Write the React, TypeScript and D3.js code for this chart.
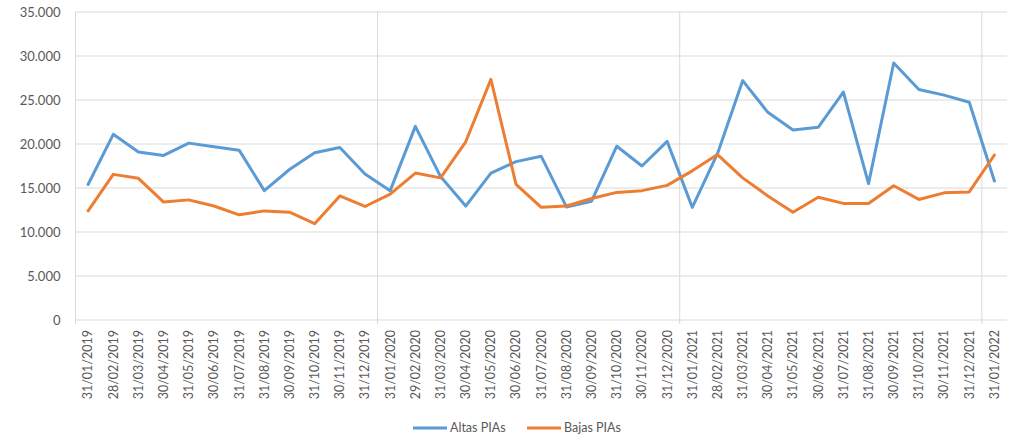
import React from 'react';
import * as d3 from 'd3';

// monthly end dates
const fechas = [
  '31/01/2019', '28/02/2019', '31/03/2019', '30/04/2019', '31/05/2019', '30/06/2019',
  '31/07/2019', '31/08/2019', '30/09/2019', '31/10/2019', '30/11/2019', '31/12/2019',
  '31/01/2020', '29/02/2020', '31/03/2020', '30/04/2020', '31/05/2020', '30/06/2020',
  '31/07/2020', '31/08/2020', '30/09/2020', '31/10/2020', '30/11/2020', '31/12/2020',
  '31/01/2021', '28/02/2021', '31/03/2021', '30/04/2021', '31/05/2021', '30/06/2021',
  '31/07/2021', '31/08/2021', '30/09/2021', '31/10/2021', '30/11/2021', '31/12/2021',
  '31/01/2022'
];

const altas = [
  15400, 21100, 19100, 18700, 20100, 19700, 19300, 14700, 17100, 19000, 19600, 16600,
  14700, 22000, 16300, 12950, 16700, 18000, 18600, 12850, 13500, 19750, 17500, 20300,
  12800, 18900, 27200, 23600, 21600, 21900, 25900, 15500, 29200, 26200, 25550, 24750,
  15800
];

const bajas = [
  12400, 16550, 16100, 13400, 13650, 12950, 11950, 12400, 12250, 10950, 14100, 12900,
  14300, 16700, 16150, 20250, 27350, 15400, 12800, 12950, 13800, 14500, 14700, 15300,
  16950, 18800, 16150, 14100, 12250, 13950, 13250, 13250, 15250, 13700, 14450, 14550,
  18750
];

const yTicks = [0, 5000, 10000, 15000, 20000, 25000, 30000, 35000];

const series = [
  { name: 'Altas PIAs', values: altas, color: '#5B9BD5' },
  { name: 'Bajas PIAs', values: bajas, color: '#ED7D31' }
];

const fmt = (v: number) => d3.format(',')(v).replace(/,/g, '.');

export default function App() {
  const width = 1014;
  const height = 442;
  const margin = { top: 12, right: 7, bottom: 122, left: 75.5 };
  const w = width - margin.left - margin.right;
  const h = height - margin.top - margin.bottom;

  const x = d3.scaleBand<string>().domain(fechas).range([0, w]).padding(0);
  const y = d3.scaleLinear().domain([0, 35000]).range([h, 0]);
  const cx = (d: string) => (x(d) as number) + x.bandwidth() / 2;

  const line = d3.line<number>()
    .x((_, i) => cx(fechas[i]))
    .y(v => y(v));

  const font = 'Lato, "Open Sans", sans-serif';
  const grid = '#D9D9D9';
  const txt = '#595959';

  // vertical gridlines every 12 months
  const vLines = [12, 24, 36].map(i => i * x.step());

  return (
    <svg width={width} height={height} style={{ position: 'absolute', left: 0, top: 0 }}>
      <rect width={width} height={height} fill="#fff" />
      <g transform={`translate(${margin.left},${margin.top})`}>
        {yTicks.map(t => (
          <g key={t}>
            <line x1={0} x2={w} y1={y(t)} y2={y(t)} stroke={grid} strokeWidth={1} />
            <text x={-15} y={y(t)} dy="0.35em" textAnchor="end" fontFamily={font}
                  fontSize={13} fill={txt}>{fmt(t)}</text>
          </g>
        ))}
        <line x1={0} x2={0} y1={0} y2={h + 4} stroke={grid} />
        {vLines.map((vx, i) => (
          <line key={i} x1={vx} x2={vx} y1={0} y2={h + 4} stroke={grid} strokeWidth={1} />
        ))}
        {fechas.map(d => (
          <text key={d} transform={`translate(${cx(d)},${h + 10}) rotate(-90)`}
                textAnchor="end" dy="0.35em" fontFamily={font} fontSize={12.5} fill={txt}>{d}</text>
        ))}
        {series.map(s => (
          <path key={s.name} d={line(s.values) || ''} fill="none" stroke={s.color}
                strokeWidth={3} strokeLinejoin="round" strokeLinecap="round" />
        ))}
      </g>
      <g transform="translate(0,428)">
        {series.map((s, i) => {
          const lx = i === 0 ? 413 : 527;
          return (
            <g key={s.name}>
              <line x1={lx} x2={lx + 34} y1={0} y2={0} stroke={s.color} strokeWidth={3} />
              <text x={lx + 37} y={0} dy="0.35em" fontFamily={font} fontSize={12.5} fill={txt}>{s.name}</text>
            </g>
          );
        })}
      </g>
    </svg>
  );
}
